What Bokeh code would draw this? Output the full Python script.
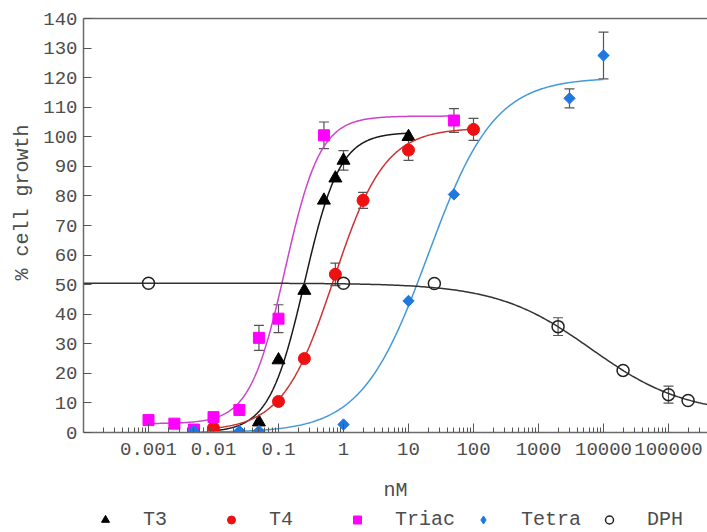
import numpy as np
from bokeh.plotting import figure
from bokeh.layouts import column
from bokeh.models import (ColumnDataSource, Whisker, TeeHead, FixedTicker, LinearAxis,
                          CustomJSTickFormatter, Legend, LegendItem, Range1d, Title)
from bokeh.embed import file_html
from bokeh.resources import INLINE

# Concentration (nM) vs % cell growth, mean and error for each compound
t3_conc = [0.01, 0.05, 0.1, 0.25, 0.5, 0.75, 1, 10]
t3_growth = [0.5, 3.5, 24.5, 48, 78.5, 86, 92, 100]
t3_err = [0, 0, 0, 0, 0, 0, 3.3, 0]

t4_conc = [0.01, 0.1, 0.25, 0.75, 2, 10, 100]
t4_growth = [1.5, 10.5, 25, 53.5, 78.5, 95.5, 102.5]
t4_err = [0, 0, 0, 3.8, 2.7, 3.5, 3.7]

triac_conc = [0.001, 0.0025, 0.005, 0.01, 0.025, 0.05, 0.1, 0.5, 50]
triac_growth = [4.2, 3, 1, 5.2, 7.6, 32, 38.5, 100.5, 105.5]
triac_err = [0, 0, 0, 0, 0, 4.2, 4.7, 4.5, 4]

tetra_conc = [0.005, 0.025, 0.05, 1, 10, 50, 3000, 10000]
tetra_growth = [0.5, 0.5, 0.5, 2.7, 44.5, 80.5, 113, 127.5]
tetra_err = [0, 0, 0, 0, 0, 0, 3.2, 7.9]

dph_conc = [0.001, 1, 25, 2000, 20000, 100000, 200000]
dph_growth = [50.5, 50.5, 50.4, 35.8, 21, 12.8, 10.8]
dph_err = [0, 0, 0, 3, 0, 2.9, 0]

# Four-parameter logistic fits: bottom, top, log10 EC50, Hill slope, fitted span (nM)
t3_fit = [0, 101.5, -0.6, 1.6, 0.01, 10]
t4_fit = [0.5, 103, -0.15, 1.1, 0.01, 100]
triac_fit = [3, 107, -0.9, 1.6, 0.001, 50]
tetra_fit = [0, 120, 1.3, 0.85, 0.005, 10000]
dph_fit = [6, 50.5, 3.81, -0.6, 1e-4, 10 ** 5.6]

decade_ticks = [0.001, 0.01, 0.1, 1, 10, 100, 1000, 10000, 100000]

FONT = "Liberation Mono"
GREY = "#4d4d4d"


def logistic(params, n=300):
    bottom, top, log_ec50, hill, lo, hi = params
    x = np.logspace(np.log10(lo), np.log10(hi), n)
    y = bottom + (top - bottom) / (1 + 10 ** ((log_ec50 - np.log10(x)) * hill))
    return x, y


p = figure(frame_width=624, frame_height=414, x_axis_type="log",
           x_range=Range1d(1e-4, 10 ** 5.6), y_range=Range1d(0, 140),
           output_backend="svg", toolbar_location=None,
           min_border_left=83, min_border_top=18, min_border_right=0, min_border_bottom=73)
p.outline_line_color = None
p.grid.visible = False
p.background_fill_color = "white"

# x axis: decade labels, ticks pointing into the frame
minor = [k * 10.0 ** d for d in range(-4, 6) for k in range(2, 10)]
xa = p.xaxis[0]
xa.ticker = FixedTicker(ticks=decade_ticks, minor_ticks=minor)
xa.formatter = CustomJSTickFormatter(code="return String(tick)")
xa.major_tick_in = 9
xa.major_tick_out = 0
xa.minor_tick_in = 5
xa.minor_tick_out = 0
xa.axis_label = "nM"

ya = p.yaxis[0]
ya.ticker = FixedTicker(ticks=list(range(0, 141, 10)))
ya.major_tick_in = 8
ya.major_tick_out = 0

for ax in (xa, ya):
    ax.axis_line_color = "#6a6a6a"
    ax.axis_line_width = 1.5
    ax.major_tick_line_color = "#555555"
    ax.major_label_text_font = FONT
    ax.major_label_text_font_size = "19px"
    ax.major_label_text_color = GREY
    ax.axis_label_text_font = FONT
    ax.axis_label_text_font_size = "20px"
    ax.axis_label_text_font_style = "normal"
    ax.axis_label_text_color = GREY
xa.minor_tick_line_color = "#555555"
ya.minor_tick_line_color = None
xa.major_label_standoff = 10
ya.major_label_standoff = 6
xa.axis_label_standoff = 21

# top border line
top = LinearAxis(major_tick_line_color=None, minor_tick_line_color=None,
                 major_label_text_font_size="0px", axis_line_color="#6a6a6a",
                 axis_line_width=1.5)
top.ticker = FixedTicker(ticks=[])
p.add_layout(top, "above")

# y axis title, sitting a little above the middle of the axis
p.add_layout(Title(text="% cell growth", align="left", offset=152, text_font=FONT,
                   text_font_size="20px", text_font_style="normal", text_color=GREY,
                   standoff=14), "left")

series = [
    ("T3", t3_conc, t3_growth, t3_err, t3_fit, "triangle", 13, 0, "black", "black", "#1a1a1a"),
    ("T4", t4_conc, t4_growth, t4_err, t4_fit, "circle", 12, 0, "#ee1111", "#ee1111", "#cc3333"),
    ("Triac", triac_conc, triac_growth, triac_err, triac_fit, "square", 11, 0, "#ff00ff", "#ff00ff", "#cc44cc"),
    ("Tetra", tetra_conc, tetra_growth, tetra_err, tetra_fit, "square", 8, np.pi / 4, "#1f78e0", "#1f78e0", "#4499d8"),
    ("DPH", dph_conc, dph_growth, dph_err, dph_fit, "circle", 12, 0, None, "#222222", "#333333"),
]
legend_marker = {"T3": "triangle", "T4": "circle", "Triac": "square", "Tetra": "diamond", "DPH": "circle"}

# key strip underneath the chart (its frame lines up with the chart frame)
k = figure(width=707, height=28, x_range=Range1d(0, 1), y_range=Range1d(0, 1),
           x_axis_location=None, y_axis_location=None,
           output_backend="svg", toolbar_location=None, min_border=0)
k.grid.visible = False
k.outline_line_color = None

items = []
for name, conc, growth, err, fit, marker, size, angle, fill, line, curve_col in series:
    fx, fy = logistic(fit)
    p.line(fx, fy, line_color=curve_col, line_width=1.5)

    e = np.array(err, dtype=float)
    g = np.array(growth, dtype=float)
    c = np.array(conc, dtype=float)
    has = e > 0
    if has.any():
        es = ColumnDataSource(dict(x=c[has], lo=g[has] - e[has], hi=g[has] + e[has]))
        p.add_layout(Whisker(source=es, base="x", lower="lo", upper="hi", dimension="height",
                             line_color="#555555", line_width=1.2,
                             lower_head=TeeHead(size=10, line_color="#555555", line_width=1.2),
                             upper_head=TeeHead(size=10, line_color="#555555", line_width=1.2)))

    lw = 1.5 if fill is None else 1
    p.scatter(conc, growth, marker=marker, size=size, angle=angle, fill_color=fill,
              line_color=line, line_width=lw)
    # hidden copy of the series, used only for its key swatch
    swatch = k.scatter(conc, growth, marker=legend_marker[name], fill_color=fill,
                       line_color=line, line_width=lw, visible=False)
    items.append(LegendItem(label=name, renderers=[swatch]))

legend = Legend(items=items, orientation="horizontal", location="left",
                glyph_width=40, glyph_height=20, label_standoff=18, label_width=60,
                spacing=8, padding=4, margin=2, border_line_color=None,
                background_fill_alpha=0,
                label_text_font=FONT, label_text_font_size="20px", label_text_color=GREY)
k.add_layout(legend, "center")

open("out.html", "w").write(file_html(column(p, k, spacing=0), INLINE))
